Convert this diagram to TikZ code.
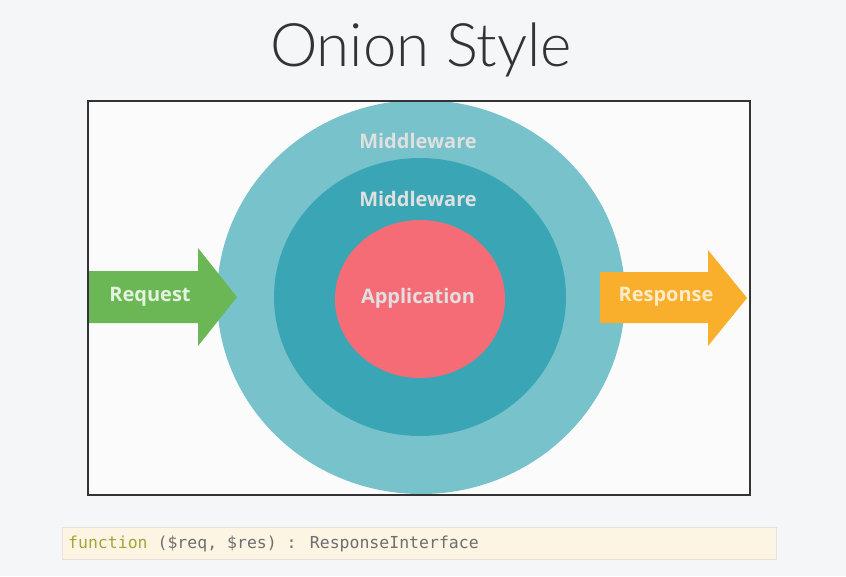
\documentclass[tikz,border=0pt]{standalone}
\usepackage{fontspec}
\setmainfont{Open Sans}
\newfontfamily\titlefont{Lato Light}
\newfontfamily\codefont{DejaVu Sans Mono}
\definecolor{bgcol}{HTML}{F4F6F8}
\definecolor{outercol}{HTML}{77C2CB}
\definecolor{midcol}{HTML}{3AA6B5}
\definecolor{appcol}{HTML}{F56C77}
\definecolor{reqcol}{HTML}{6BB755}
\definecolor{rescol}{HTML}{F9AF2B}
\definecolor{framecol}{HTML}{333333}
\definecolor{codebg}{HTML}{FCF5E4}
\definecolor{codeedge}{HTML}{E6E2D8}
\definecolor{kwcol}{HTML}{A5A436}
\definecolor{codetext}{HTML}{6E6E6E}
\begin{document}
\begin{tikzpicture}[x=1pt,y=-1pt,
  lbl/.style={text=white!88!black, font=\bfseries\fontsize{20}{24}\selectfont}]
\useasboundingbox (0,0) rectangle (846,576);
\fill[bgcol] (0,0) rectangle (846,576);

% title
\node (title) at (421,50) {\titlefont\fontsize{60}{64}\selectfont\color{black!80} Onion Style};

% frame background
\fill[white!60!bgcol] (88,101) rectangle (750,495);

% rings
\fill[outercol] (421,297) ellipse [x radius=204, y radius=197];
\fill[midcol] (420,297) ellipse [x radius=146, y radius=139];
\fill[appcol] (420,299) ellipse [x radius=85, y radius=79];

\node[lbl] (mw1) at (418,141) {Middleware};
\node[lbl] (mw2) at (418,199) {Middleware};
\node[lbl] (app) at (418,298) {Application};

% request arrow
\fill[reqcol] (88,271) -- (198,271) -- (198,248) -- (237,297) -- (198,346) -- (198,323) -- (88,323) -- cycle;
\node[lbl, text=white!82!reqcol] (req) at (150,297) {Request};

% response arrow
\fill[rescol] (600,272) -- (708,272) -- (708,250) -- (747,298) -- (708,346) -- (708,323) -- (600,323) -- cycle;
\node[lbl, text=white!75!rescol] (res) at (666,297) {Response};

\draw[framecol, line width=2.4] (88,101) rectangle (750,495);

% code signature
\filldraw[fill=codebg, draw=codeedge, line width=0.8] (62,527) rectangle (776,559);
\node[anchor=west, inner sep=0] (sig) at (68,543.5)
  {\codefont\fontsize{16.5}{18}\selectfont\textcolor{kwcol}{function}\ \textcolor{codetext}{(\$req, \$res) : ResponseInterface}};
\end{tikzpicture}
\end{document}
